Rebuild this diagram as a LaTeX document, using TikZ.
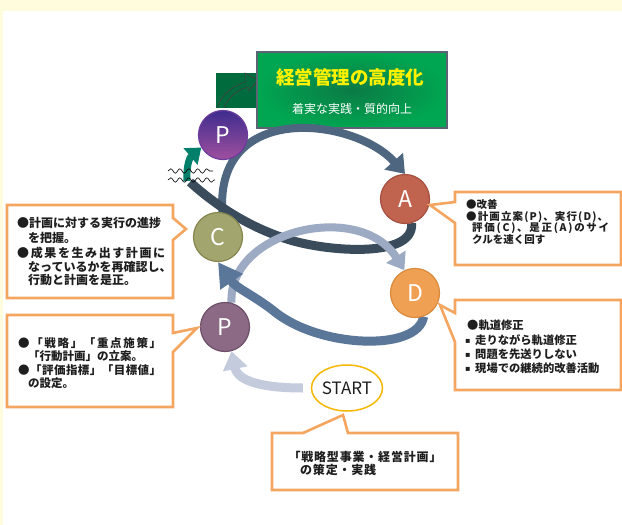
\documentclass[tikz,border=0pt]{standalone}
\usepackage{fontspec}
\setmainfont{Noto Sans CJK JP}
\newfontfamily\dejavu{DejaVu Sans}
\usetikzlibrary{arrows.meta,decorations.pathmorphing,shapes.geometric}
\definecolor{bgyellow}{HTML}{FFFBDD}
\definecolor{corange}{HTML}{F4A560}
\definecolor{textdark}{HTML}{1E1E1E}
\definecolor{arcTop}{HTML}{4F6680}
\definecolor{bandDark}{HTML}{3A4B5C}
\definecolor{arcLight}{HTML}{9DAAC3}
\definecolor{arcDC}{HTML}{5A7698}
\definecolor{arcStart}{HTML}{C3CBDC}
\definecolor{tealc}{HTML}{007F6A}
\definecolor{Afill}{HTML}{C0634F}
\definecolor{Aline}{HTML}{A65040}
\definecolor{Cfill}{HTML}{A3A56E}
\definecolor{Cline}{HTML}{85864E}
\definecolor{Dfill}{HTML}{F0A052}
\definecolor{Dline}{HTML}{D8893C}
\definecolor{Pfill}{HTML}{8C6A86}
\definecolor{Pline}{HTML}{6E4F69}
\definecolor{Ptop}{HTML}{3E2C8E}
\definecolor{Pbot}{HTML}{A0509E}
\definecolor{Ptopline}{HTML}{6C3C9C}
\definecolor{gOuter}{HTML}{00A651}
\definecolor{gInner}{HTML}{0B7A45}
\definecolor{gBorder}{HTML}{5C6372}
\definecolor{gSquare}{HTML}{006B3C}
\definecolor{titleyellow}{HTML}{FFF200}
\definecolor{startline}{HTML}{F5B800}
\def\lsp#1{#1\lspnext}
\def\lspnext#1{\ifx#1\relax\else\hfil#1\expandafter\lspnext\fi}
\newcommand\spreadto[2]{\hbox to #1{\lsp#2\relax}}
\newcommand\sqbul{\makebox[10pt][l]{\raisebox{0.5pt}{\dejavu\fontsize{8}{8}\selectfont ▪}}}
\begin{document}
\begin{tikzpicture}[x=1pt,y=-1pt,
  circ/.style={circle, minimum size=49pt, inner sep=0pt, line width=1.2pt, text=white, font=\fontsize{23}{23}\selectfont},
  callout/.style={draw=corange, line width=2.6pt, fill=white, line join=miter},
  band/.style={line width=#1, line cap=butt},
  band/.default=8pt,
  tc/.style={anchor=west, inner sep=0pt, text=textdark, font=\fontsize{12}{14}\selectfont\bfseries},
  ta/.style={anchor=west, inner sep=0pt, text=textdark, font=\fontsize{10.5}{12}\selectfont\bfseries},
  td/.style={anchor=west, inner sep=0pt, text=textdark, font=\fontsize{11.3}{13}\selectfont\bfseries},
  tp/.style={anchor=west, inner sep=0pt, text=textdark, font=\fontsize{11.5}{13}\selectfont\bfseries},
  ts/.style={inner sep=0pt, text=textdark, font=\fontsize{12}{14}\selectfont\bfseries},
  wave/.style={draw=black, line width=0.6pt, decorate, decoration={snake, amplitude=2.2pt, segment length=9pt}}
]
\useasboundingbox (0,0) rectangle (622,525);
% background
\fill[white] (0,0) rectangle (622,525);
\fill[bgyellow] (0,0) rectangle (622,11);
\fill[bgyellow] (0,0) rectangle (3,525);

\coordinate (Apos) at (405,199);
\coordinate (Cpos) at (218,237);
\coordinate (Dpos) at (415,293);
\coordinate (P1pos) at (225,327);
\coordinate (P2pos) at (223,135);
\coordinate (Spos) at (347,388);
\coordinate (wavept) at (190,182);
\coordinate (tealstart) at (187,181);

% invisible anchor nodes for the connectors
\node[circ] (A) at (Apos) {};
\node[circ] (C) at (Cpos) {};
\node[circ] (D) at (Dpos) {};
\node[circ] (P1) at (P1pos) {};
\node[circ] (P2) at (P2pos) {};
\node[ellipse, minimum width=70pt, minimum height=46pt, inner sep=0pt] (S) at (Spos) {};

% green title area
\fill[gSquare] (216,73) rectangle (258,108);
\draw[black!75, line width=0.6pt] (217,108) .. controls (221,95) and (232,86) .. (246,82) -- (245,73) -- (258,80) -- (249,91) -- (248,87) .. controls (236,90) and (228,98) .. (224,108);
\shade[inner color=gInner, outer color=gOuter] (257,52) rectangle (447,128);
\draw[gBorder, line width=2.5pt] (257,52) rectangle (447,128);
\node[inner sep=0pt, text=titleyellow, font=\fontsize{18.5}{20}\selectfont\bfseries] (title) at (350,77) {経営管理の高度化};
\node[inner sep=0pt, text=white, font=\fontsize{12}{14}\selectfont] (subtitle) at (352,109) {着実な実践・質的向上};

% connectors
\draw[band=8pt, arcTop, -{Triangle[width=24pt,length=17pt]}] (C.80) .. controls (215,100) and (355,118) .. (A.north);
\draw[band=9pt, bandDark] (A.-75) .. controls (415,258) and (330,252) .. (290,240) .. controls (250,228) and (215,205) .. (wavept);
\draw[band=8pt, arcLight, -{Triangle[width=22pt,length=16pt]}] (P1.75) .. controls (228,230) and (360,200) .. (D.115);
\draw[band=9pt, arcDC, -{Triangle[width=26pt,length=24pt]}] (D.-70) .. controls (418,352) and (320,348) .. (275,312) .. controls (255,296) and (236,288) .. (C.-90);
\draw[band=9pt, arcStart, -{Triangle[width=24pt,length=18pt]}] ([xshift=-9pt]S.west) .. controls (265,388) and (238,382) .. (P1.-75);
\draw[band=7pt, tealc, -{Triangle[width=21pt,length=14pt]}] (tealstart) .. controls (186,166) and (190,157) .. (P2.-150);
\draw[wave] (168,171) -- (213,171);
\draw[wave] (168,180) -- (215,180);

% circles
\node[circ, fill=Afill, draw=Aline] (Acirc) at (Apos) {A};
\node[circ, fill=Cfill, draw=Cline] (Ccirc) at (Cpos) {C};
\node[circ, fill=Dfill, draw=Dline] (Dcirc) at (Dpos) {D};
\node[circ, fill=Pfill, draw=Pline] (P1circ) at (P1pos) {P};
\node[circ, top color=Ptop, bottom color=Pbot, draw=Ptopline] (P2circ) at (P2pos) {P};
\node[ellipse, draw=startline, line width=1.5pt, fill=white, minimum width=70pt, minimum height=46pt, inner sep=0pt, font=\fontsize{17}{17}\selectfont, text=textdark] (Scirc) at (Spos) {START};

% callouts
\draw[callout] (7,205) -- (173,205) -- (173,218) -- (186,229) -- (173,240) -- (173,298) -- (7,298) -- cycle;
\draw[callout] (7,315) -- (173,315) -- (173,333) -- (197,328) -- (173,352) -- (173,407) -- (7,407) -- cycle;
\draw[callout] (455,192) -- (621,192) -- (621,265) -- (455,265) -- (455,223) -- (430,205) -- (455,202) -- cycle;
\draw[callout] (455,300) -- (621,300) -- (621,390) -- (455,390) -- (455,342) -- (440,305) -- (455,313) -- cycle;
\draw[callout] (272,433) -- (303,433) -- (343,415) -- (348,433) -- (458,433) -- (458,490) -- (272,490) -- cycle;

% C callout text
\node[tc] (c1) at (17,223) {●計画に対する実行の進捗};
\node[tc] (c2) at (28,238) {を把握。};
\node[tc] (c3) at (17,253) {\spreadto{148pt}{●成果を生み出す計画に}};
\node[tc] (c4) at (28,267) {なっているかを再確認し、};
\node[tc] (c5) at (28,280) {行動と計画を是正。};

% A callout text
\node[ta] (a1) at (466,205) {●改善};
\node[ta] (a2) at (466,217) {\spreadto{142pt}{●計画立案(P)、実行(D)、}};
\node[ta] (a3) at (472,228) {\spreadto{137pt}{評価(C)、是正(A)のサイ}};
\node[ta] (a4) at (472,240) {クルを速く回す};

% D callout text
\node[td] (d1) at (467,325) {●軌道修正};
\node[td] (d2) at (465,340) {\sqbul 走りながら軌道修正};
\node[td] (d3) at (465,354) {\sqbul 問題を先送りしない};
\node[td] (d4) at (465,368) {\sqbul 現場での継続的改善活動};

% P callout text
\node[tp] (p1) at (18,343) {\spreadto{143pt}{●「戦略」「重点施策」}};
\node[tp] (p2) at (28,356) {「行動計画」の立案。};
\node[tp] (p3) at (18,370) {\spreadto{143pt}{●「評価指標」「目標値」}};
\node[tp] (p4) at (28,383) {の設定。};

% START callout text
\node[ts] (s1) at (365,457) {\spreadto{153pt}{「戦略型事業・経営計画」}};
\node[ts, anchor=west] (s2) at (300,470) {\spreadto{76pt}{の策定・実践}};
\end{tikzpicture}
\end{document}
